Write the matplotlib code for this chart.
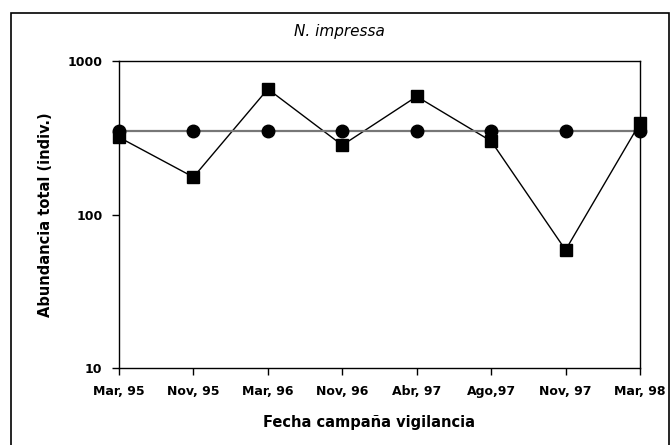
import matplotlib
matplotlib.use("Agg")
import matplotlib.pyplot as plt
from matplotlib.patches import Rectangle
from matplotlib.ticker import FixedLocator, NullLocator, FixedFormatter

plt.rcParams['font.family'] = ['DejaVu Sans']

campaigns = ["Mar, 95", "Nov, 95", "Mar, 96", "Nov, 96", "Abr, 97", "Ago,97", "Nov, 97", "Mar, 98"]
observed = [320, 176, 660, 284, 590, 302, 59, 396]
reference = [352, 352, 352, 352, 352, 352, 352, 352]
y_ticks = [10, 100, 1000]
y_tick_labels = ["10", "100", "1000"]

W, H = 670, 445
fig = plt.figure(figsize=(W / 100, H / 100), dpi=100)
fig.patch.set_facecolor("white")

# outer frame
fig.patches.append(Rectangle((11 / W, -0.01), (669 - 11) / W, (H - 13) / H + 0.01,
                             transform=fig.transFigure, fill=False,
                             edgecolor="black", linewidth=1.2))

ax = fig.add_axes([119 / W, 1 - 368.3 / H, (640 - 119) / W, (368.3 - 61.3) / H])
x = list(range(len(campaigns)))

ax.plot(x, reference, color="#777777", linewidth=1.6, marker="o", markersize=9,
        markerfacecolor="black", markeredgecolor="black", clip_on=False, zorder=4)
ax.plot(x, observed, color="black", linewidth=1.0, marker="s", markersize=8.5,
        markerfacecolor="black", markeredgecolor="black", clip_on=False, zorder=3)

ax.set_yscale("log")
ax.set_ylim(10, 1000)
ax.set_xlim(0, len(campaigns) - 1)
ax.yaxis.set_major_locator(FixedLocator(y_ticks))
ax.yaxis.set_major_formatter(FixedFormatter(y_tick_labels))
ax.yaxis.set_minor_locator(NullLocator())
ax.set_xticks(x)
ax.set_xticklabels(campaigns)

for s in ax.spines.values():
    s.set_linewidth(1.0)
    s.set_color("black")

ax.tick_params(axis="both", direction="out", length=5, width=1.0, colors="black")
for lab in ax.get_xticklabels() + ax.get_yticklabels():
    lab.set_fontweight("bold")
    lab.set_fontsize(9)
ax.tick_params(axis="x", pad=7)
ax.tick_params(axis="y", pad=7)

fig.text(339 / W, 1 - 36 / H, "N. impressa", ha="center", va="baseline",
         fontsize=11, style="italic")
fig.text(369 / W, 1 - 427 / H, "Fecha campaña vigilancia", ha="center", va="baseline",
         fontsize=10.5, fontweight="bold")
fig.text(45.5 / W, 1 - 215 / H, "Abundancia total (indiv.)", ha="center", va="center",
         fontsize=10.5, fontweight="bold", rotation=90)

fig.savefig("out.png", dpi=100, facecolor="white")
